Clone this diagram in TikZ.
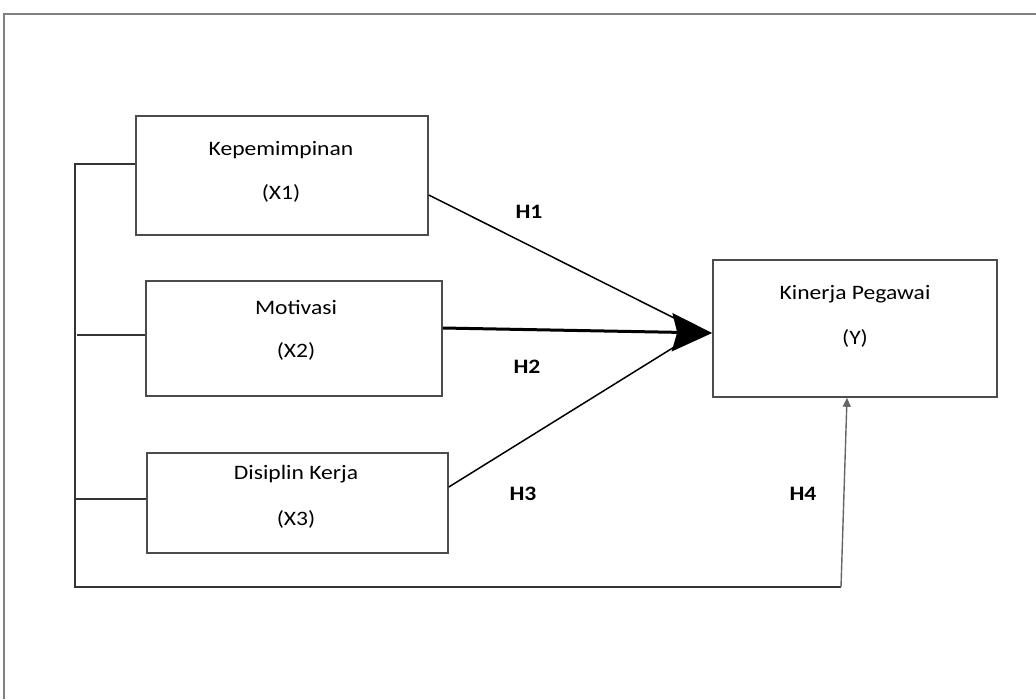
\documentclass[tikz,border=0pt]{standalone}
\usepackage{fontspec}
\setmainfont{Carlito}[FakeStretch=1.15]
\usetikzlibrary{arrows.meta}
\begin{document}
\begin{tikzpicture}[x=1pt,y=-1pt,
  box/.style={draw=black!70,line width=1.6pt,rectangle,inner sep=0pt},
  txt/.style={font=\fontsize{20.5}{24}\selectfont,text=black},
  hlab/.style={font=\fontsize{20.5}{24}\selectfont\bfseries,text=black},
  frame/.style={draw=black!50,line width=2pt},
  bus/.style={draw=black!80,line width=1.4pt},
  path/.style={draw=black,line width=1.5pt}]
\useasboundingbox (0,0) rectangle (1036,699);
\fill[white] (0,0) rectangle (1036,699);
% outer frame (only left and top edges visible)
\draw[frame] (4,699) -- (4,14) -- (1036,14);
% boxes
\node[box,minimum width=292pt,minimum height=119pt] (x1) at (282,175.5) {};
\node[box,minimum width=296pt,minimum height=115pt] (x2) at (294,338.5) {};
\node[box,minimum width=301pt,minimum height=100pt] (x3) at (297.5,503) {};
\node[box,minimum width=284pt,minimum height=137pt] (y) at (855,328.5) {};
% box texts
\node[txt] (t1a) at (281,150) {Kepemimpinan};
\node[txt] (t1b) at (281,193) {(X1)};
\node[txt] (t2a) at (296,307) {Motivasi};
\node[txt] (t2b) at (296,351) {(X2)};
\node[txt] (t3a) at (296,474) {Disiplin Kerja};
\node[txt] (t3b) at (296,519) {(X3)};
\node[txt] (tya) at (855,294) {Kinerja Pegawai};
\node[txt] (tyb) at (855,338) {(Y)};
% left bus
\coordinate (b1) at (75,164);
\coordinate (b2) at (77,335);
\coordinate (b3) at (75,499);
\coordinate (bb) at (75,587);
\coordinate (br) at (841,587);
\draw[bus] (x1.west |- b1) -- (b1) -- (bb) -- (br);
\draw[bus] (b2) -- (x2.west |- b2);
\draw[bus] (b3) -- (x3.west |- b3);
\draw[draw=black!60,line width=1.4pt,-{Triangle[length=9pt,width=8pt]}] (br) -- (y.south -| 847,0);
% hypothesis paths
\coordinate (tip) at (700,331);
\draw[path] (x1.east |- 0,195) -- (tip);
\draw[path] (x3.east |- 0,487) -- (tip);
\draw[draw=black,line width=3pt,-{Stealth[length=40pt,width=38pt,inset=5pt]}] (x2.east |- 0,328) -- (y.west |- 0,333);
% labels
\node[hlab] (h1) at (529,212) {H1};
\node[hlab] (h2) at (527,367) {H2};
\node[hlab] (h3) at (523,494) {H3};
\node[hlab] (h4) at (803,494) {H4};
\end{tikzpicture}
\end{document}
